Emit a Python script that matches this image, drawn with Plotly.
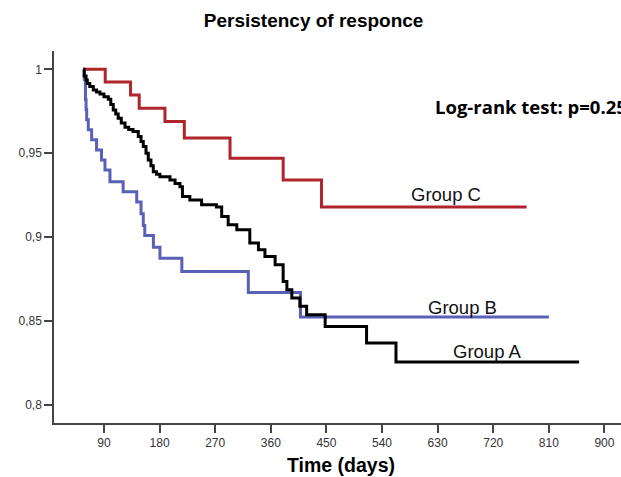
import plotly.graph_objects as go

# Group A (black)
a_days = [56.5, 58, 61, 63, 67, 72.7, 78, 83.5, 90, 97, 101, 105, 109, 113, 118, 124, 130, 137,
          145.5, 150, 153.6, 158, 161.7, 166, 169.8, 175, 180.5, 196.8, 205, 213, 217, 229, 248,
          272, 280.5, 291, 305, 326, 340, 350.5, 367, 380, 386, 394, 407, 418, 448, 515, 562.6, 859]
a_surv = [1.0, 0.996, 0.9936, 0.9916, 0.9897, 0.9877, 0.9865, 0.9853, 0.9837, 0.9821, 0.979, 0.9758,
          0.9733, 0.9708, 0.968, 0.9655, 0.9642, 0.9629, 0.9599, 0.957, 0.954, 0.950, 0.946, 0.9425,
          0.939, 0.9375, 0.936, 0.9341, 0.932, 0.930, 0.9242, 0.9222, 0.9193, 0.918, 0.9123, 0.9074,
          0.9044, 0.8965, 0.8925, 0.8885, 0.8836, 0.8736, 0.8687, 0.8637, 0.8588, 0.8538, 0.8468,
          0.8369, 0.8257, 0.8257]

# Group B (blue)
b_days = [56.5, 58, 60, 61, 62, 64.6, 70, 78, 86, 91.6, 99.7, 121, 143, 150, 153.6, 156, 170,
          180.6, 216, 323.6, 408, 810]
b_surv = [1.0, 0.994, 0.982, 0.976, 0.970, 0.964, 0.958, 0.952, 0.946, 0.940, 0.933, 0.927, 0.921,
          0.914, 0.907, 0.901, 0.894, 0.8875, 0.8796, 0.867, 0.8524, 0.8524]

# Group C (red)
c_days = [56.5, 92, 133, 147, 188.7, 220, 294, 380, 442, 774]
c_surv = [1.0, 0.9924, 0.9847, 0.9768, 0.9689, 0.959, 0.947, 0.934, 0.918, 0.918]

x_ticks = [90, 180, 270, 360, 450, 540, 630, 720, 810, 900]
y_ticks = [0.8, 0.85, 0.9, 0.95, 1.0]
y_labels = ["0,8", "0,85", "0,9", "0,95", "1"]

fig = go.Figure()
fig.add_trace(go.Scatter(x=c_days, y=c_surv, mode="lines", line=dict(color="#B0242B", width=3, shape="hv"),
                         name="Group C"))
fig.add_trace(go.Scatter(x=b_days, y=b_surv, mode="lines", line=dict(color="#5A60B6", width=3, shape="hv"),
                         name="Group B"))
fig.add_trace(go.Scatter(x=a_days, y=a_surv, mode="lines", line=dict(color="#000000", width=3, shape="hv"),
                         name="Group A"))

lab_font = dict(family="Arial, Liberation Sans", size=18.5, color="#111")
fig.add_annotation(x=644, y=0.9252, text="Group C", showarrow=False, font=lab_font)
fig.add_annotation(x=670.6, y=0.8584, text="Group B", showarrow=False, font=lab_font)
fig.add_annotation(x=710.3, y=0.8318, text="Group A", showarrow=False, font=lab_font)
fig.add_annotation(x=(433 - 48.4) / 0.6178, y=0.9776, text="<b>Log-rank test: p=0.25</b>", showarrow=False,
                   xanchor="left", font=dict(family="Open Sans", size=18.5, color="#000"))
fig.add_annotation(xref="paper", yref="paper", x=(341 - 54) / 567, y=(423 - 465) / 372,
                   text="<b>Time (days)</b>", showarrow=False, xanchor="center", yanchor="middle",
                   font=dict(family="Arial, Liberation Sans", size=19.5, color="#000"))

fig.update_layout(
    width=621, height=477,
    margin=dict(l=54, r=0, t=51, b=54),
    paper_bgcolor="white", plot_bgcolor="white",
    showlegend=False,
    title=dict(text="<b>Persistency of responce</b>", x=0.505, xanchor="center", y=0.958, yanchor="middle",
               font=dict(family="Arial, Liberation Sans", size=19, color="#000")),
    xaxis=dict(range=[9.1, 926.8], tickvals=x_ticks, showgrid=False, zeroline=False, automargin=False,
               showline=True, linecolor="#444", linewidth=1.5, ticks="outside", ticklen=8,
               tickcolor="#444", tickwidth=1.5,
               tickfont=dict(family="Arial, Liberation Sans", size=12, color="#333")),
    yaxis=dict(range=[0.7893, 1.0109], tickvals=y_ticks, ticktext=y_labels, showgrid=False, zeroline=False,
               automargin=False,
               showline=True, linecolor="#444", linewidth=1.5, ticks="outside", ticklen=8,
               tickcolor="#444", tickwidth=1.5,
               tickfont=dict(family="Arial, Liberation Sans", size=12, color="#333")),
)

fig.write_html("out.html", config={"displayModeBar": False},
               post_script="document.body.style.margin='0';document.body.style.overflow='hidden';")
